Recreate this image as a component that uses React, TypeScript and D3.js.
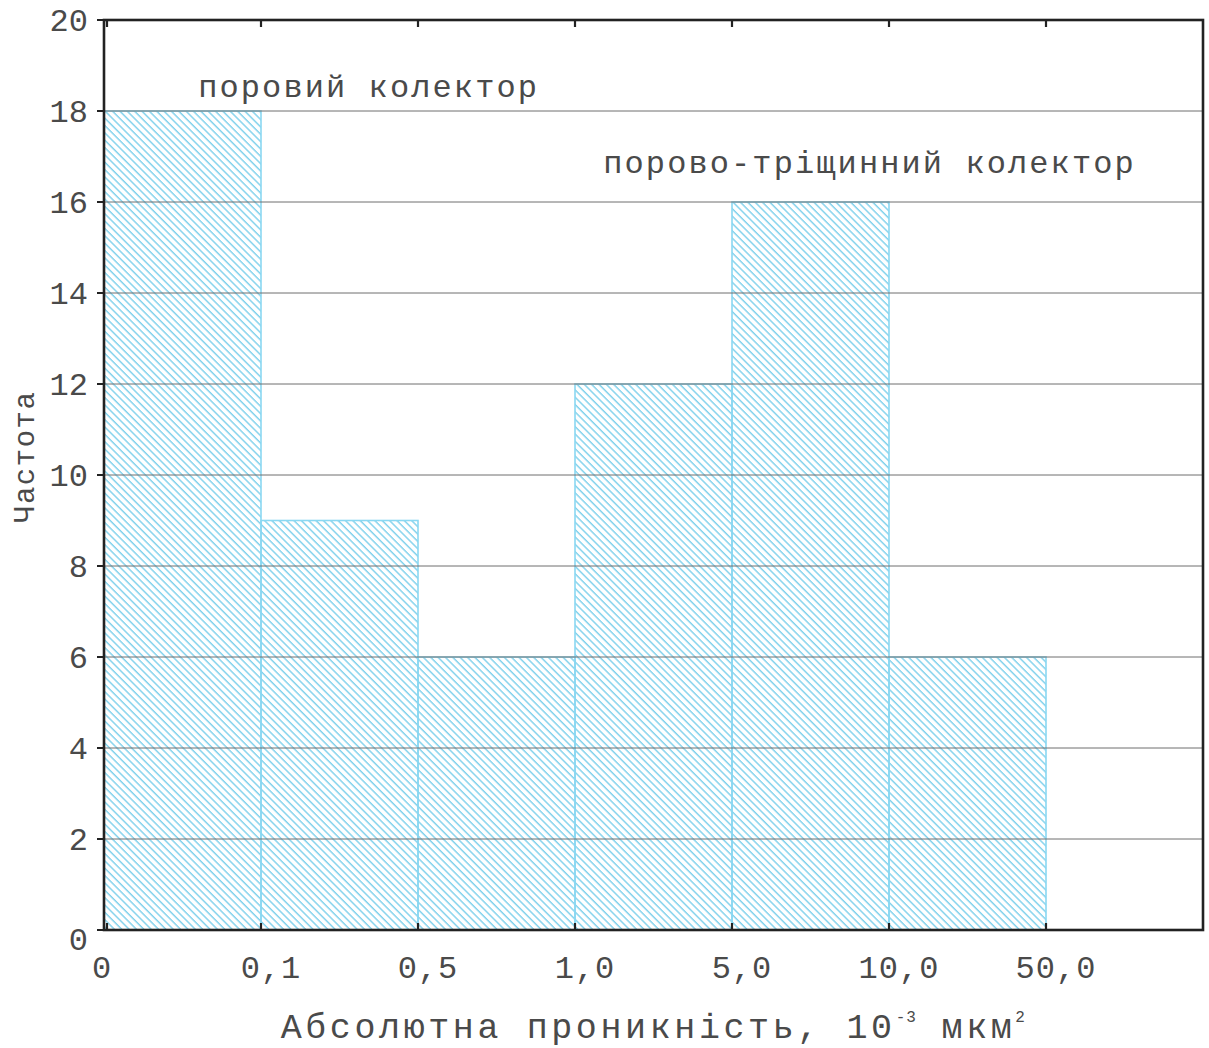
import React from "react";
import * as d3 from "d3";

const binEdgeLabels = ["0", "0,1", "0,5", "1,0", "5,0", "10,0", "50,0"];
const frequencies = [18, 9, 6, 12, 16, 6];
const yTicks = [0, 2, 4, 6, 8, 10, 12, 14, 16, 18, 20];
const annotations = [
  { text: "поровий колектор", edge: 0.6, value: 18.3 },
  { text: "порово-тріщинний колектор", edge: 3.18, value: 16.64 },
];

const W = 1209;
const H = 1048;
const M = { left: 104, top: 20, right: 6, bottom: 118 };
const FONT = "'Liberation Mono', 'DejaVu Sans Mono', monospace";
const INK = "#4a4a4a";

export default function App() {
  const x = d3.scaleLinear().domain([0, 7]).range([M.left, W - M.right]);
  const y = d3.scaleLinear().domain([0, 20]).range([H - M.bottom, M.top]);
  const x0 = x(0), x1 = x(7), y0 = y(0), y1 = y(20);

  return (
    <svg width={W} height={H} style={{ position: "absolute", left: 0, top: 0, background: "#fff" }}>
      <defs>
        <pattern id="hatch" patternUnits="userSpaceOnUse" width={5.2} height={10} patternTransform="rotate(-45)">
          <line x1={1} y1={-1} x2={1} y2={11} stroke="#7ccfec" strokeWidth={1.4} />
        </pattern>
      </defs>
      {frequencies.map((v, i) => (
        <rect key={i} x={x(i)} y={y(v)} width={x(i + 1) - x(i)} height={y0 - y(v)}
          fill="url(#hatch)" stroke="#8ad8f2" strokeWidth={1.6} />
      ))}
      {yTicks.filter(t => t > 0 && t < 20).map(t => (
        <line key={t} x1={x0} x2={x1} y1={y(t)} y2={y(t)} stroke="#6e6e6e" strokeWidth={1} />
      ))}
      <rect x={x0} y={y1} width={x1 - x0} height={y0 - y1} fill="none" stroke="#222" strokeWidth={2.6} />
      {yTicks.map(t => (
        <g key={t}>
          <line x1={x0 - 7} x2={x0} y1={y(t)} y2={y(t)} stroke="#222" strokeWidth={2} />
          <text x={x0 - 16} y={y(t) + (t === 0 ? 20 : 11)} textAnchor="end" fontFamily={FONT}
            fontSize={32} letterSpacing={0} fill={INK}>{t}</text>
        </g>
      ))}
      {binEdgeLabels.map((lab, i) => (
        <g key={lab}>
          <line x1={x(i) + (i === 0 ? 3 : 0)} x2={x(i) + (i === 0 ? 3 : 0)} y1={y0} y2={y0 - 7} stroke="#222" strokeWidth={2.2} />
          <line x1={x(i) + (i === 0 ? 3 : 0)} x2={x(i) + (i === 0 ? 3 : 0)} y1={y1} y2={y1 + 7} stroke="#222" strokeWidth={2.2} />
          <text x={x(i) + (lab.length > 1 ? 10 : -2)} y={y0 + 48} textAnchor="middle" fontFamily={FONT}
            fontSize={32} letterSpacing={1} fill={INK}>{lab}</text>
        </g>
      ))}
      {annotations.map(a => (
        <text key={a.text} x={x(a.edge)} y={y(a.value)} fontFamily={FONT} fontSize={32}
          letterSpacing={2.1} fill={INK}>{a.text}</text>
      ))}
      <text x={x(1.125)} y={H - 10} fontFamily={FONT} fontSize={35} letterSpacing={3.6} fill={INK}>
        Абсолютна проникність, 10
        <tspan dy={-16} fontSize={16} letterSpacing={1}>-3</tspan>
        <tspan dy={16}> мкм</tspan>
        <tspan dy={-16} fontSize={16}>2</tspan>
      </text>
      <text transform={`translate(${34},${y(10.4)}) rotate(-90)`} textAnchor="middle" fontFamily={FONT}
        fontSize={29} letterSpacing={1.5} fill={INK}>Частота</text>
    </svg>
  );
}
